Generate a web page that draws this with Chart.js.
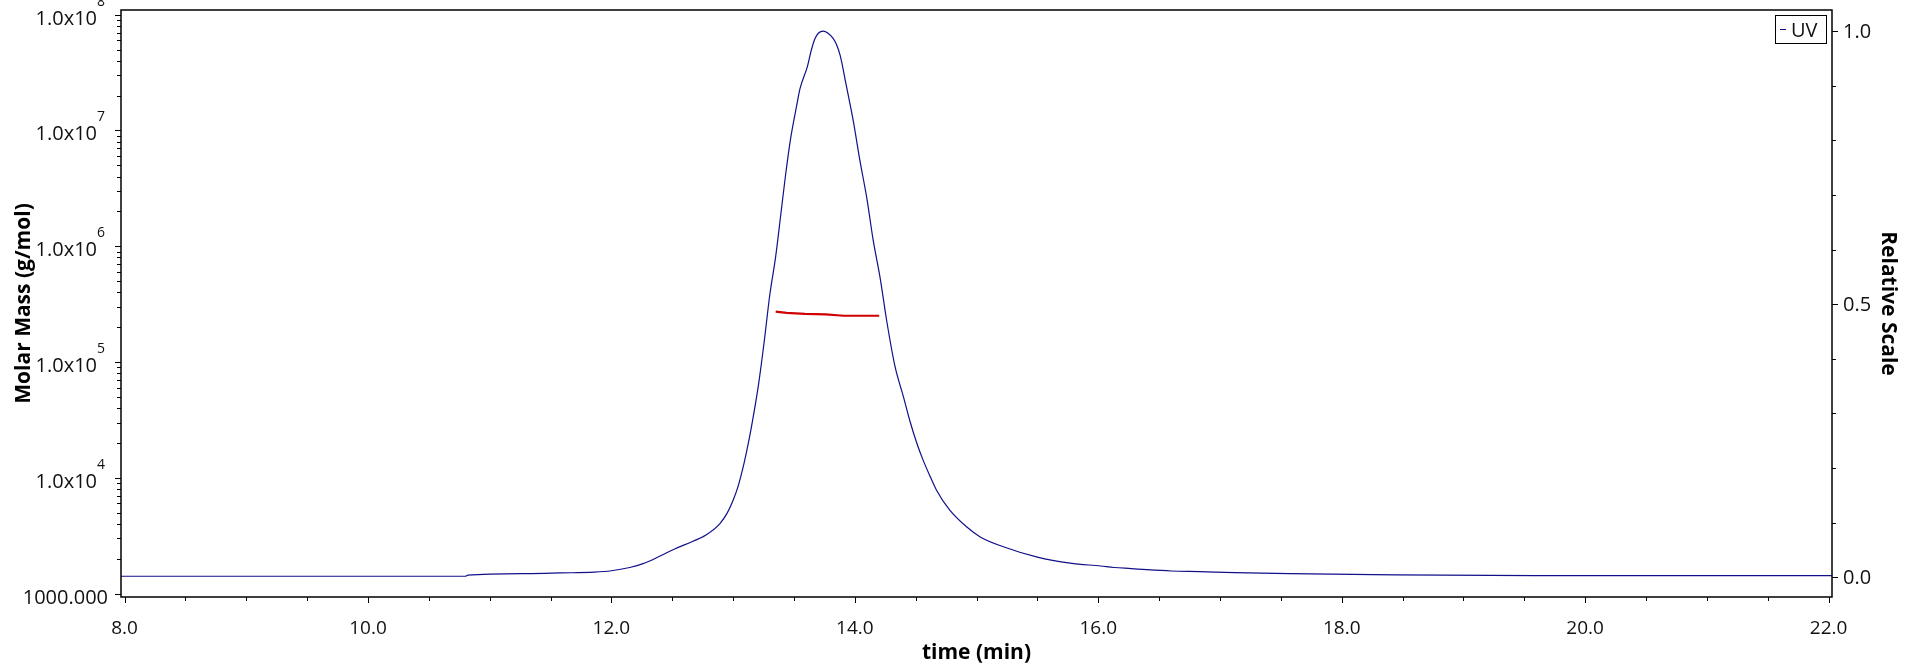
<!DOCTYPE html>
<html>
<head>
<meta charset="utf-8">
<script src="https://cdn.jsdelivr.net/npm/chart.js@4/dist/chart.umd.min.js"></script>
<style>
  html, body { margin: 0; padding: 0; background: #fff; }
  #wrap { width: 1920px; height: 672px; }
</style>
</head>
<body>
<div id="wrap"><canvas id="chart" width="1920" height="672"></canvas></div>
<script>
// UV trace (relative scale, right axis)
const uvTime = [7.97, 10.80, 10.82, 11.34, 11.58, 11.86, 12.00, 12.15, 12.26, 12.40, 12.52, 12.67, 12.78, 12.89, 12.95,
  13.00, 13.04, 13.09, 13.13, 13.17, 13.21, 13.26, 13.30, 13.35, 13.39, 13.43, 13.47, 13.52, 13.55, 13.61, 13.64, 13.67,
  13.70, 13.74, 13.78, 13.82, 13.85, 13.88, 13.93, 13.99, 14.04, 14.10, 14.15, 14.21, 14.26, 14.33, 14.40, 14.45, 14.51,
  14.56, 14.62, 14.67, 14.78, 14.92, 15.03, 15.22, 15.50, 15.77, 16.02, 16.13, 16.27, 16.40, 16.60, 16.83, 17.12, 17.57,
  18.26, 19.60, 22.03];
const uvValue = [0.002, 0.002, 0.004, 0.0068, 0.008, 0.0095, 0.012, 0.018, 0.025, 0.039, 0.052, 0.066, 0.078, 0.098, 0.117,
  0.141, 0.166, 0.209, 0.251, 0.300, 0.355, 0.44, 0.515, 0.588, 0.661, 0.735, 0.800, 0.861, 0.895, 0.935, 0.963, 0.985,
  0.996, 1.0, 0.996, 0.987, 0.975, 0.955, 0.900, 0.832, 0.765, 0.692, 0.618, 0.545, 0.472, 0.386, 0.330, 0.288, 0.245,
  0.215, 0.184, 0.160, 0.123, 0.092, 0.074, 0.056, 0.037, 0.026, 0.0207, 0.018, 0.016, 0.014, 0.0116, 0.0104, 0.0086, 0.0067,
  0.005, 0.0031, 0.0031];

// molar mass (left log axis)
const mmTime = [13.35, 13.44, 13.59, 13.76, 13.91, 14.20];
const mmMass = [272000, 266000, 261000, 258000, 251000, 251000];

// axis ticks
const xLabels = [8, 10, 12, 14, 16, 18, 20, 22];
const massDecades = [3, 4, 5, 6, 7, 8];
const relLabels = [0, 0.5, 1.0];

const FONT = '"Open Sans", "Noto Sans", sans-serif';

const frame = {
  id: 'frame',
  afterDraw(chart) {
    const { ctx, chartArea: a, scales } = chart;
    const x = scales.x, yl = scales.y, yr = scales.y1;
    ctx.save();
    ctx.strokeStyle = '#000';
    ctx.fillStyle = '#111';
    ctx.lineWidth = 1.5;
    ctx.strokeRect(a.left, a.top, a.right - a.left, a.bottom - a.top);

    ctx.lineWidth = 1;
    ctx.beginPath();
    // x ticks every 0.5 min
    for (let t = 8; t <= 22.001; t += 0.5) {
      const px = Math.round(x.getPixelForValue(t)) + 0.5;
      const len = xLabels.includes(t) ? 6 : 4;
      ctx.moveTo(px, a.bottom); ctx.lineTo(px, a.bottom + len);
    }
    // log ticks
    massDecades.forEach(d => {
      for (let k = 1; k <= 9; k++) {
        const v = k * Math.pow(10, d);
        if (v < yl.min || v > yl.max) continue;
        const py = Math.round(yl.getPixelForValue(v)) + 0.5;
        ctx.moveTo(a.left, py); ctx.lineTo(a.left - (k === 1 ? 6 : 4), py);
      }
    });
    // relative scale ticks
    for (let i = 0; i <= 10; i++) {
      const py = Math.round(yr.getPixelForValue(i / 10)) + 0.5;
      ctx.moveTo(a.right, py); ctx.lineTo(a.right + (i % 5 === 0 ? 6 : 4), py);
    }
    ctx.stroke();

    // x labels
    ctx.font = '19px ' + FONT;
    ctx.textAlign = 'center';
    ctx.textBaseline = 'alphabetic';
    xLabels.forEach(t => ctx.fillText(t.toFixed(1), x.getPixelForValue(t), 634));

    // left labels
    massDecades.forEach(d => {
      const py = yl.getPixelForValue(Math.pow(10, d));
      ctx.textAlign = 'right';
      ctx.font = '20px ' + FONT;
      if (d === 3) {
        ctx.fillText('1000.000', 108, py + 10);
      } else {
        ctx.fillText('1.0x10', 97, py + 10);
        ctx.textAlign = 'left';
        ctx.font = '14px ' + FONT;
        ctx.fillText(String(d), 97, py - 9);
      }
    });

    // right labels
    ctx.font = '20px ' + FONT;
    ctx.textAlign = 'left';
    relLabels.forEach(v => ctx.fillText(v.toFixed(1), 1843, yr.getPixelForValue(v) + 7));

    // axis titles
    ctx.fillStyle = '#000';
    ctx.font = 'bold 21px ' + FONT;
    ctx.textAlign = 'center';
    ctx.fillText('time (min)', (a.left + a.right) / 2, 659);

    ctx.save();
    ctx.translate(24, (a.top + a.bottom) / 2);
    ctx.rotate(-Math.PI / 2);
    ctx.font = 'bold 21px ' + FONT;
    ctx.textBaseline = 'middle';
    ctx.fillText('Molar Mass (g/mol)', 0, 0);
    ctx.restore();

    ctx.save();
    ctx.translate(1888, (a.top + a.bottom) / 2);
    ctx.rotate(Math.PI / 2);
    ctx.font = 'bold 21px ' + FONT;
    ctx.textBaseline = 'middle';
    ctx.fillText('Relative Scale', 0, 0);
    ctx.restore();

    // legend box
    ctx.lineWidth = 1;
    ctx.strokeStyle = '#000';
    ctx.strokeRect(1775.5, 15.5, 51, 28);
    ctx.strokeStyle = '#10108a';
    ctx.beginPath(); ctx.moveTo(1780, 29.5); ctx.lineTo(1786, 29.5); ctx.stroke();
    ctx.font = '20px ' + FONT;
    ctx.textAlign = 'left';
    ctx.fillStyle = '#111';
    ctx.fillText('UV', 1791, 37);
    ctx.restore();
  }
};

new Chart(document.getElementById('chart'), {
  type: 'line',
  data: {
    datasets: [
      {
        label: 'UV',
        data: uvTime.map((t, i) => ({ x: t, y: uvValue[i] })),
        yAxisID: 'y1',
        borderColor: '#10108a',
        borderWidth: 1.2,
        pointRadius: 0,
        cubicInterpolationMode: 'monotone'
      },
      {
        label: 'Molar Mass',
        data: mmTime.map((t, i) => ({ x: t, y: mmMass[i] })),
        yAxisID: 'y',
        borderColor: '#d00000',
        borderWidth: 2.2,
        pointRadius: 0
      }
    ]
  },
  options: {
    responsive: false,
    animation: false,
    events: [],
    layout: { padding: { top: 10, left: 0, right: 0, bottom: 0 } },
    plugins: { legend: { display: false }, tooltip: { enabled: false } },
    scales: {
      x: {
        type: 'linear', min: 7.971, max: 22.028,
        ticks: { display: false }, grid: { display: false }, border: { display: false },
        afterFit: s => { s.height = 75; }
      },
      y: {
        type: 'logarithmic', position: 'left', min: 934, max: 1.098e8,
        ticks: { display: false }, grid: { display: false }, border: { display: false },
        afterFit: s => { s.width = 121; }
      },
      y1: {
        type: 'linear', position: 'right', min: -0.036, max: 1.0385,
        ticks: { display: false }, grid: { display: false }, border: { display: false },
        afterFit: s => { s.width = 88; }
      }
    }
  },
  plugins: [frame]
});
</script>
</body>
</html>
